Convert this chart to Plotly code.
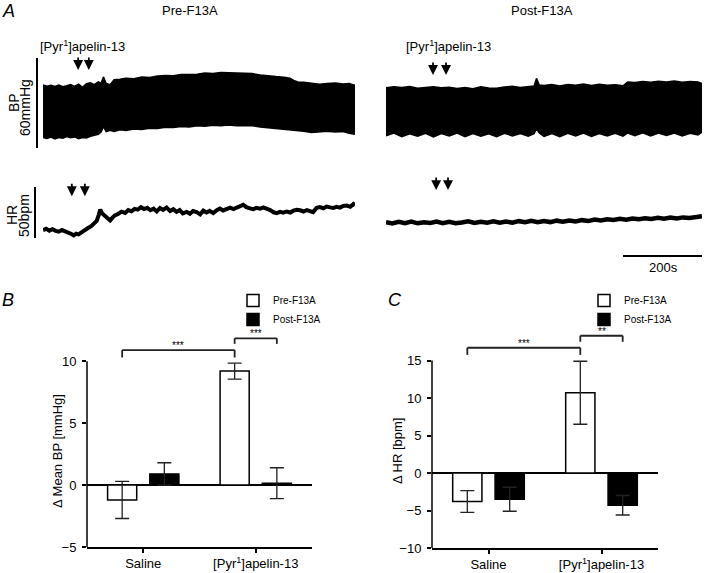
import plotly.graph_objects as go

W, H = 705, 573
FONT = "Liberation Sans, Arial, sans-serif"

# ---------------- panel A : recordings ----------------
# pre-F13A arterial pressure band (upper / lower envelope), time in s, mmHg
bp_pre_t = [0, 10, 20, 30, 40, 50, 60, 70, 80, 90, 100, 110, 120, 130, 140, 147, 153, 160,
            170, 180, 195, 210, 230, 250, 270, 290, 310, 330, 350, 370, 390, 410, 430, 450,
            470, 490, 510, 530, 550, 570, 590, 610, 625, 635, 645, 660, 680, 700, 720, 740,
            760, 775, 790]
bp_pre_hi = [102.0, 101.2, 101.8, 101.0, 101.9, 100.9, 101.5, 102.3, 101.1, 102.6, 100.4, 102.9,
             103.4, 102.2, 104.1, 103.2, 107.4, 103.0, 102.2, 105.5, 105.9, 106.5, 106.2, 107.3,
             107.0, 108.0, 108.4, 108.1, 109.0, 109.3, 109.1, 110.0, 109.7, 110.3, 110.0, 109.9,
             109.4, 109.6, 108.7, 108.4, 107.6, 107.2, 106.6, 105.0, 104.0, 103.8, 103.1, 102.5,
             103.0, 103.4, 102.6, 103.0, 101.8]
bp_pre_lo = [67.1, 66.4, 67.3, 66.0, 67.0, 66.5, 67.6, 66.8, 67.4, 66.2, 67.0, 66.7, 67.8, 68.4,
             69.2, 70.6, 74.2, 71.0, 71.8, 71.0, 72.2, 71.7, 72.6, 72.3, 73.2, 73.0, 73.8, 73.6,
             74.4, 74.0, 74.8, 74.5, 75.2, 74.9, 75.3, 74.8, 74.6, 74.9, 74.0, 73.5, 73.2, 72.5,
             72.4, 71.8, 72.0, 71.2, 70.4, 70.8, 71.2, 70.6, 71.0, 69.8, 69.2]

# post-F13A arterial pressure band
bp_post_t = [0, 20, 40, 60, 80, 100, 120, 140, 160, 180, 200, 220, 240, 260, 280, 300, 320, 340,
             360, 375, 381, 388, 400, 420, 440, 460, 480, 500, 520, 540, 560, 580, 600, 612, 630,
             650, 670, 690, 710, 730, 750, 770, 790, 800]
bp_post_hi = [100.2, 100.9, 100.3, 101.0, 99.8, 100.6, 100.9, 100.1, 100.5, 99.7, 100.4, 99.5,
              100.8, 100.0, 99.9, 100.6, 101.2, 100.4, 100.9, 101.4, 106.4, 102.0, 101.6, 102.3,
              101.4, 102.4, 101.8, 102.6, 101.7, 102.5, 101.9, 102.2, 101.5, 104.0, 103.6, 104.3,
              103.8, 104.5, 104.0, 104.7, 103.9, 104.3, 104.0, 103.0]
bp_post_lo = [68.2, 69.9, 67.6, 69.5, 67.9, 69.8, 67.4, 69.6, 68.0, 69.9, 67.5, 69.7, 67.8, 69.5,
              67.6, 69.8, 68.1, 69.6, 67.9, 69.5, 73.0, 70.0, 67.8, 69.7, 67.6, 69.8, 68.0, 69.9,
              67.7, 69.6, 68.0, 69.8, 67.9, 70.0, 68.2, 70.1, 68.0, 69.9, 68.3, 70.0, 68.1, 69.8,
              68.7, 70.6]

# pre-F13A heart rate (bpm)
hr_pre_t = [0, 8, 16, 24, 32, 40, 48, 56, 64, 72, 78, 84, 90, 98, 106, 114, 122, 130, 136, 141,
            145, 150, 157, 164, 170, 176, 182, 190, 199, 208, 216, 224, 232, 240, 248, 256, 264,
            272, 280, 288, 296, 304, 313, 322, 330, 338, 346, 354, 364, 372, 380, 389, 398, 406,
            414, 422, 431, 440, 448, 456, 465, 474, 482, 490, 498, 507, 515, 524, 532, 540, 550,
            558, 566, 575, 584, 592, 600, 608, 617, 626, 634, 643, 651, 660, 668, 676, 684, 693,
            701, 710, 718, 727, 735, 743, 752, 760, 769, 778, 786, 790]
hr_pre = [307.8, 309.0, 307.2, 308.6, 307.0, 306.2, 307.8, 306.8, 305.4, 304.0, 302.6, 304.2,
          303.6, 306.0, 308.4, 309.8, 311.6, 314.2, 316.8, 322.5, 327.8, 324.0, 321.6, 318.4,
          317.2, 320.0, 322.2, 323.5, 325.8, 324.6, 327.4, 326.2, 328.6, 327.8, 330.2, 328.4,
          329.6, 327.2, 328.8, 326.0, 329.4, 327.6, 329.8, 326.4, 328.2, 325.6, 327.4, 324.2,
          325.6, 323.8, 326.4, 325.4, 323.2, 326.8, 325.0, 326.6, 324.4, 327.2, 328.8, 327.0,
          328.6, 329.8, 328.4, 329.4, 331.0, 332.6, 330.2, 329.0, 328.2, 329.6, 328.8, 330.0,
          329.2, 327.4, 325.2, 324.4, 325.6, 324.8, 326.0, 325.0, 326.8, 327.6, 327.2, 326.0,
          327.4, 326.2, 325.4, 329.6, 330.4, 329.2, 330.8, 330.0, 329.4, 330.6, 329.8, 331.4,
          331.8, 330.6, 333.2, 332.0]

# post-F13A heart rate (bpm)
hr_post_t = [0, 16, 32, 48, 64, 80, 96, 112, 128, 144, 160, 176, 192, 208, 224, 240, 256, 272,
             288, 304, 320, 336, 352, 368, 384, 400, 416, 432, 448, 464, 480, 496, 512, 528, 544,
             560, 576, 592, 608, 624, 640, 656, 672, 688, 704, 720, 736, 752, 768, 784, 800]
hr_post = [315.6, 314.2, 315.8, 314.6, 316.0, 314.4, 315.5, 314.8, 316.2, 314.6, 315.9, 314.5,
           315.2, 316.4, 314.7, 315.8, 315.0, 316.4, 315.1, 316.2, 315.0, 316.5, 315.4, 316.8,
           315.5, 316.6, 315.6, 317.0, 316.0, 317.2, 316.3, 317.5, 316.6, 318.0, 317.2, 318.4,
           317.6, 318.9, 318.0, 319.2, 318.3, 319.4, 318.6, 319.8, 319.0, 320.0, 319.2, 320.2,
           319.6, 320.8, 321.4]

# injection marks (s)
inj_bp_pre = [89, 116]
inj_bp_post = [119, 152]
inj_hr_pre = [73, 106]
inj_hr_post = [127, 157]

# ---------------- panels B and C : group means ----------------
groups = ["Saline", "[Pyr<sup>1</sup>]apelin-13"]
bp_pre = [-1.2, 9.2]
bp_pre_err = [1.5, 0.65]
bp_post = [0.9, 0.15]
bp_post_err = [0.9, 1.25]
hr_pre_mean = [-3.8, 10.7]
hr_pre_err = [1.45, 4.2]
hr_post_mean = [-3.5, -4.3]
hr_post_err = [1.6, 1.3]


def px(x):
    return x / W


def py(y):
    return 1 - y / H


fig = go.Figure()

# BP bands
for t, lo, hi, xa in [(bp_pre_t, bp_pre_lo, bp_pre_hi, "x"), (bp_post_t, bp_post_lo, bp_post_hi, "x2")]:
    fig.add_trace(go.Scatter(x=t, y=lo, mode="lines", line=dict(color="black", width=1.5),
                             xaxis=xa, yaxis="y", showlegend=False, hoverinfo="skip"))
    fig.add_trace(go.Scatter(x=t, y=hi, mode="lines", line=dict(color="black", width=1.5),
                             fill="tonexty", fillcolor="black",
                             xaxis=xa, yaxis="y", showlegend=False, hoverinfo="skip"))

# HR lines
fig.add_trace(go.Scatter(x=hr_pre_t, y=hr_pre, mode="lines", line=dict(color="black", width=4),
                         xaxis="x", yaxis="y2", showlegend=False))
fig.add_trace(go.Scatter(x=hr_post_t, y=hr_post, mode="lines", line=dict(color="black", width=4.5),
                         xaxis="x2", yaxis="y2", showlegend=False))

# bar charts
err_style = dict(type="data", color="#222", thickness=1.3, width=7, visible=True)
for xa, ya, pre, pre_e, post, post_e, lg in [
    ("x3", "y3", bp_pre, bp_pre_err, bp_post, bp_post_err, "legend"),
    ("x4", "y4", hr_pre_mean, hr_pre_err, hr_post_mean, hr_post_err, "legend2"),
]:
    fig.add_trace(go.Bar(x=groups, y=pre, name="Pre-F13A", legend=lg,
                         marker=dict(color="white", line=dict(color="black", width=1.5)),
                         error_y=dict(array=pre_e, **err_style), xaxis=xa, yaxis=ya))
    fig.add_trace(go.Bar(x=groups, y=post, name="Post-F13A", legend=lg,
                         marker=dict(color="black", line=dict(color="black", width=1.5)),
                         error_y=dict(array=post_e, **err_style), xaxis=xa, yaxis=ya))

bargap = 0.25
off = (1 - bargap) / 4  # half distance between bar centres in a group

shapes = []
ann = []

# scale bars
shapes.append(dict(type="line", xref="paper", yref="y", x0=px(37), x1=px(37), y0=60, y1=120,
                   line=dict(color="black", width=2)))
shapes.append(dict(type="line", xref="paper", yref="y2", x0=px(35), x1=px(35), y0=300, y1=350,
                   line=dict(color="black", width=2)))
shapes.append(dict(type="line", xref="x2", yref="paper", x0=600, x1=800, y0=py(256), y1=py(256),
                   line=dict(color="black", width=2)))

# y axis lines of B and C (only up to the top tick)
shapes.append(dict(type="line", xref="paper", yref="y3", x0=px(87), x1=px(87), y0=-5, y1=10,
                   line=dict(color="black", width=1.5)))
shapes.append(dict(type="line", xref="paper", yref="y4", x0=px(432), x1=px(432), y0=-10, y1=15,
                   line=dict(color="black", width=1.5)))


def bracket(xa, ya, x0, x1, y, drop, label):
    for a, b, c, d in [(x0, x0, y - drop, y), (x0, x1, y, y), (x1, x1, y, y - drop)]:
        shapes.append(dict(type="line", xref=xa, yref=ya, x0=a, x1=b, y0=c, y1=d,
                           line=dict(color="#222", width=1.8)))
    ann.append(dict(x=(x0 + x1) / 2, y=y, xref=xa, yref=ya, text=label, showarrow=False,
                    xanchor="center", yanchor="bottom", yshift=-3,
                    font=dict(size=10, color="black")))


bracket("x3", "y3", 0 - off, 1 - off, 10.9, 0.6, "***")
bracket("x3", "y3", 1 - off, 1 + off, 11.85, 0.45, "***")
bracket("x4", "y4", 0 - off, 1 - off, 16.7, 0.95, "***")
bracket("x4", "y4", 1 - off, 1 + off, 18.3, 0.8, "**")

# injection arrows
for ts, xa, ya, yv in [(inj_bp_pre, "x", "y", 112), (inj_bp_post, "x2", "y", 108.7),
                       (inj_hr_pre, "x", "y2", 341), (inj_hr_post, "x2", "y2", 347)]:
    for t in ts:
        ann.append(dict(x=t, y=yv, xref=xa, yref=ya, text="", showarrow=True, arrowhead=2,
                        arrowsize=1.1, arrowwidth=1.8, arrowcolor="black", ax=0, ay=-14))


def label(x, y, text, size=13, angle=0):
    ann.append(dict(x=px(x), y=py(y), xref="paper", yref="paper", text=text, showarrow=False,
                    xanchor="center", yanchor="middle", textangle=angle,
                    font=dict(size=size, color="black")))


label(8, 11, "<i>A</i>", size=18)
label(8, 300, "<i>B</i>", size=18)
label(395, 300, "<i>C</i>", size=18)
label(190, 10, "Pre-F13A")
label(542, 10, "Post-F13A")
label(82, 46, "[Pyr<sup>1</sup>]apelin-13")
label(448, 46, "[Pyr<sup>1</sup>]apelin-13")
label(14, 103, "BP", size=14, angle=-90)
label(25, 108, "60mmHg", size=14, angle=-90)
label(12, 215, "HR", size=14, angle=-90)
label(24, 216, "50bpm", size=14, angle=-90)
label(663, 267, "200s")
label(57, 451, "Δ Mean BP [mmHg]", angle=-90)
label(397, 451, "Δ HR [bpm]", angle=-90)

hidden = dict(visible=False, showgrid=False, zeroline=False, fixedrange=True, automargin=False)
bar_x = dict(type="category", range=[-0.5, 1.5], showline=True, linecolor="black", linewidth=1.5,
             ticks="outside", ticklen=4, tickwidth=1.5, tickcolor="black", showgrid=False,
             automargin=False, tickfont=dict(size=13, color="black"))
bar_y = dict(showline=False, showgrid=False, zeroline=True, zerolinecolor="black", zerolinewidth=1.8,
             ticks="outside", ticklen=4, tickwidth=1.5, tickcolor="black", ticklabelstandoff=3,
             automargin=False, tickfont=dict(size=13, color="black"))

fig.update_layout(
    width=W, height=H,
    margin=dict(l=0, r=0, t=0, b=0, autoexpand=False),
    paper_bgcolor="white", plot_bgcolor="white",
    font=dict(family=FONT, size=13, color="black"),
    barmode="group", bargap=bargap, bargroupgap=0.31,
    xaxis=dict(domain=[px(43), px(355)], range=[0, 790], anchor="y", **hidden),
    yaxis=dict(domain=[py(148), py(58)], range=[60, 120], anchor="x", **hidden),
    xaxis2=dict(domain=[px(386), px(702)], range=[0, 800], anchor="y", **hidden),
    yaxis2=dict(domain=[py(238), py(187)], range=[300, 350], anchor="x", **hidden),
    xaxis3=dict(domain=[px(87), px(312)], anchor="y3", **bar_x),
    yaxis3=dict(domain=[py(547), py(329)], range=[-5, 12.6], tickvals=[-5, 0, 5, 10],
                anchor="x3", **bar_y),
    xaxis4=dict(domain=[px(432), px(658)], anchor="y4", **bar_x),
    yaxis4=dict(domain=[py(548), py(332)], range=[-10, 18.8], tickvals=[-10, -5, 0, 5, 10, 15],
                anchor="x4", **bar_y),
    legend=dict(x=px(233), y=py(286), xanchor="left", yanchor="top", bgcolor="rgba(0,0,0,0)",
                font=dict(size=10), traceorder="normal", tracegroupgap=0),
    legend2=dict(x=px(584), y=py(286), xanchor="left", yanchor="top", bgcolor="rgba(0,0,0,0)",
                 font=dict(size=10), traceorder="normal", tracegroupgap=0),
    shapes=shapes,
    annotations=ann,
)

# page body has a default 8px margin; drop it so the figure sits at the window origin
fig.write_html("out.html", config={"displayModeBar": False},
               post_script="document.body.style.margin='0px';")
